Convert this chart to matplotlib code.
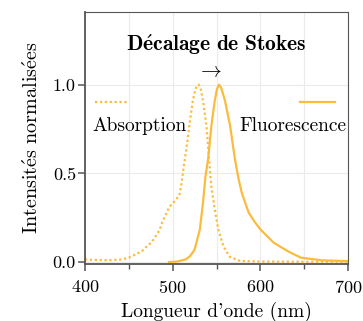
import matplotlib
matplotlib.use("Agg")
import matplotlib.pyplot as plt
from matplotlib.ticker import MultipleLocator, FormatStrFormatter
from matplotlib.lines import Line2D

plt.rcParams['font.family'] = 'serif'
plt.rcParams['font.serif'] = ['cmr10']
plt.rcParams['mathtext.fontset'] = 'cm'
plt.rcParams['axes.formatter.use_mathtext'] = True
plt.rcParams['font.size'] = 13

couleur = '#fbbb3e'

# absorption (pointillés)
abs_lambda = [400, 405, 427, 442, 450, 465, 477, 485, 488, 496, 500, 505, 508, 510,
              513, 516, 519, 523, 526, 528, 529.6, 531, 532.5, 534.5, 538.5, 541.5, 544,
              548, 552, 557.7, 565, 577, 600, 650, 700]
abs_val = [0.015, 0.013, 0.01, 0.015, 0.025, 0.062, 0.118, 0.18, 0.222, 0.31, 0.33,
           0.36, 0.385, 0.44, 0.55, 0.65, 0.77, 0.91, 0.975, 0.995, 1.0, 0.99, 0.965,
           0.91, 0.77, 0.58, 0.43, 0.297, 0.184, 0.09, 0.03, 0.006, 0.003, 0.002, 0.002]

# fluorescence (trait plein)
fluo_lambda = [496, 505, 515, 520, 525, 531, 534.6, 537.3, 540.4, 544.2, 548, 550.5,
               552.7, 555, 557, 559.6, 565.4, 571, 574.8, 578.8, 586.5, 593, 600, 615,
               631, 646, 670, 700]
fluo_val = [0.0, 0.003, 0.015, 0.035, 0.07, 0.184, 0.335, 0.48, 0.58, 0.77, 0.91, 0.975,
            1.0, 0.985, 0.955, 0.91, 0.77, 0.58, 0.476, 0.39, 0.28, 0.23, 0.184, 0.11,
            0.062, 0.025, 0.01, 0.005]

fig = plt.figure(figsize=(3.63, 3.21), dpi=100)
ax = fig.add_axes([0.234, 0.178, 0.725, 0.785])

ax.plot(abs_lambda, abs_val, color=couleur, lw=1.6, linestyle=(0, (1, 1.2)))
ax.plot(fluo_lambda, fluo_val, color=couleur, lw=1.6)

ax.set_xlim(400, 700)
ax.set_ylim(-0.01, 1.41)
ax.xaxis.set_major_locator(MultipleLocator(100))
ax.xaxis.set_minor_locator(MultipleLocator(50))
ax.yaxis.set_major_formatter(FormatStrFormatter('%.1f'))
ax.set_yticks([0.0, 0.5, 1.0])
ax.grid(True, which='both', axis='x', color='#ebebeb', lw=0.8)
ax.grid(True, which='major', axis='y', color='#ebebeb', lw=0.8)
ax.set_axisbelow(True)

for s in ['left', 'bottom']:
    ax.spines[s].set_color('#555555')
    ax.spines[s].set_linewidth(1.3)
for s in ['top', 'right']:
    ax.spines[s].set_color('#555555')
    ax.spines[s].set_linewidth(0.8)
ax.tick_params(which='major', direction='out', length=5, width=1.1, color='#555555',
               labelsize=13)
ax.tick_params(axis='x', which='major', pad=6)
ax.tick_params(axis='y', which='major', pad=1.5)
ax.tick_params(which='minor', direction='out', length=3.5, width=1.0, color='#555555')
ax.tick_params(axis='y', which='minor', left=False)

ax.set_xlabel("Longueur d'onde (nm)", fontsize=14, labelpad=4)
ax.set_ylabel(r"$\mathrm{Intensit\acute{e}s\ normalis\acute{e}es}$", fontsize=14.5, labelpad=8)

ax.text(0.5, 0.87, r"$\mathbf{D\acute{e}calage\ de\ Stokes}$", transform=ax.transAxes,
        ha='center', va='center', fontsize=15.5)
ax.text(0.475, 0.762, r"$\rightarrow$", transform=ax.transAxes, ha='center', va='center',
        fontsize=15)

# légende à la Makie : échantillon au-dessus du libellé
ax.add_line(Line2D([0.038, 0.163], [0.643, 0.643], transform=ax.transAxes, color=couleur,
                   lw=1.6, linestyle=(0, (1, 1.2))))
ax.add_line(Line2D([0.817, 0.951], [0.643, 0.643], transform=ax.transAxes, color=couleur,
                   lw=1.6))
ax.text(0.209, 0.548, "Absorption", transform=ax.transAxes, ha='center', va='center', fontsize=14)
ax.text(0.79, 0.548, "Fluorescence", transform=ax.transAxes, ha='center', va='center', fontsize=14)

fig.savefig('out.png', dpi=100)
